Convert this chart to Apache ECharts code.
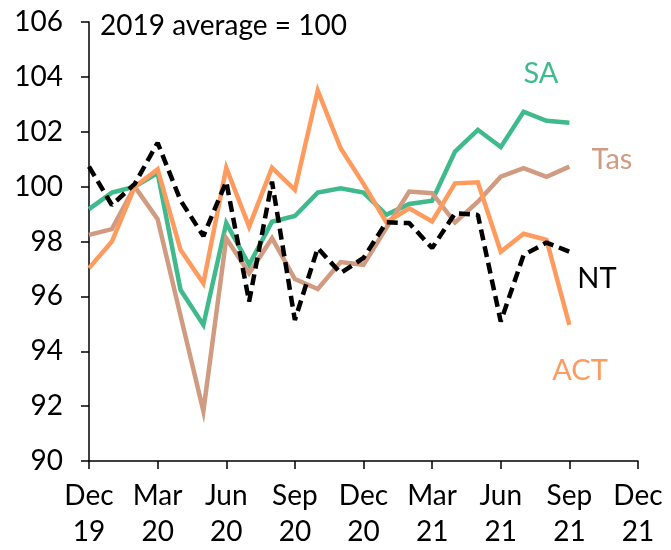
<!DOCTYPE html>
<html>
<head>
<meta charset="utf-8">
<script src="https://cdn.jsdelivr.net/npm/echarts@6/dist/echarts.min.js"></script>
<style>
  html, body { margin: 0; padding: 0; background: #fff; }
  #chart { width: 671px; height: 550px; }
</style>
</head>
<body>
<div id="chart"></div>
<script>
// Monthly index values, Dec 2019 to Sep 2021 (2019 average = 100)
const months = ['Dec 19','Jan 20','Feb 20','Mar 20','Apr 20','May 20','Jun 20','Jul 20','Aug 20','Sep 20','Oct 20','Nov 20',
                'Dec 20','Jan 21','Feb 21','Mar 21','Apr 21','May 21','Jun 21','Jul 21','Aug 21','Sep 21'];
const sa  = [99.18, 99.78, 100.0, 100.49, 96.24, 94.96, 98.67, 97.15, 98.72, 98.93, 99.78, 99.94,
             99.78, 98.97, 99.37, 99.49, 101.28, 102.07, 101.44, 102.73, 102.4, 102.33];
const tas = [98.24, 98.45, 100.0, 98.81, 95.3, 91.82, 98.12, 96.84, 98.12, 96.63, 96.27, 97.25,
             97.15, 98.5, 99.82, 99.76, 98.69, 99.45, 100.36, 100.67, 100.36, 100.73];
const nt  = [100.73, 99.33, 100.1, 101.6, 99.5, 98.2, 100.18, 95.81, 100.18, 95.14, 97.76, 96.85,
             97.4, 98.7, 98.67, 97.76, 99.03, 98.97, 95.08, 97.51, 97.96, 97.63];
const act = [97.03, 98.0, 100.0, 100.63, 97.7, 96.48, 100.69, 98.54, 100.69, 99.88, 103.5, 101.4,
             100.1, 98.7, 99.21, 98.73, 100.12, 100.16, 97.63, 98.28, 98.06, 94.96];
// Quarterly x-axis tick labels (every 3 months from Dec 19)
const xTicks = ['Dec\n19','Mar\n20','Jun\n20','Sep\n20','Dec\n20','Mar\n21','Jun\n21','Sep\n21','Dec\n21'];

const FONT = 'Lato, "Noto Sans", sans-serif';
const C_SA = '#3fba8c', C_TAS = '#d09b80', C_ACT = '#ff9b5f', C_NT = '#000000';

const toPairs = arr => arr.map((v, i) => [i, v]);

const chart = echarts.init(document.getElementById('chart'), null, { renderer: 'canvas' });

const lineSeries = (name, data, color, extra) => Object.assign({
  name, type: 'line', data: toPairs(data), showSymbol: false, symbol: 'none',
  lineStyle: { color, width: 4.5, join: 'miter' }, itemStyle: { color },
  animation: false, z: 2
}, extra || {});

chart.setOption({
  animation: false,
  grid: { left: 89, right: 33, top: 22, bottom: 88.5, containLabel: false },
  xAxis: {
    type: 'value', min: 0, max: 24, interval: 3,
    splitLine: { show: false },
    axisLine: { show: true, lineStyle: { color: '#000', width: 1.5 } },
    axisTick: { show: true, length: 8, lineStyle: { color: '#000', width: 1.5 } },
    axisLabel: {
      formatter: v => xTicks[Math.round(v / 3)] || '',
      color: '#000', fontFamily: FONT, fontSize: 28, lineHeight: 36, margin: 17,
      showMinLabel: true, showMaxLabel: true
    }
  },
  yAxis: {
    type: 'value', min: 90, max: 106, interval: 2,
    splitLine: { show: false },
    axisLine: { show: true, onZero: false, lineStyle: { color: '#000', width: 1.5 } },
    axisTick: { show: true, length: 8, lineStyle: { color: '#000', width: 1.5 } },
    axisLabel: { color: '#000', fontFamily: FONT, fontSize: 28, margin: 26 }
  },
  series: [
    lineSeries('SA', sa, C_SA),
    lineSeries('Tas', tas, C_TAS),
    lineSeries('ACT', act, C_ACT),
    lineSeries('NT', nt, C_NT, { lineStyle: { color: C_NT, width: 4.5, type: [11, 6], cap: 'butt' } })
  ],
  graphic: [
    { type: 'text', left: 100, top: 12, style: { text: '2019 average = 100', fill: '#000', font: '28px ' + FONT } },
    { type: 'text', x: 541, y: 74, style: { text: 'SA', fill: C_SA, font: '29px ' + FONT, textAlign: 'center', textVerticalAlign: 'middle' } },
    { type: 'text', x: 612, y: 160, style: { text: 'Tas', fill: C_TAS, font: '29px ' + FONT, textAlign: 'center', textVerticalAlign: 'middle' } },
    { type: 'text', x: 597, y: 279, style: { text: 'NT', fill: C_NT, font: '29px ' + FONT, textAlign: 'center', textVerticalAlign: 'middle' } },
    { type: 'text', x: 580, y: 371, style: { text: 'ACT', fill: C_ACT, font: '29px ' + FONT, textAlign: 'center', textVerticalAlign: 'middle' } }
  ]
});
</script>
</body>
</html>
